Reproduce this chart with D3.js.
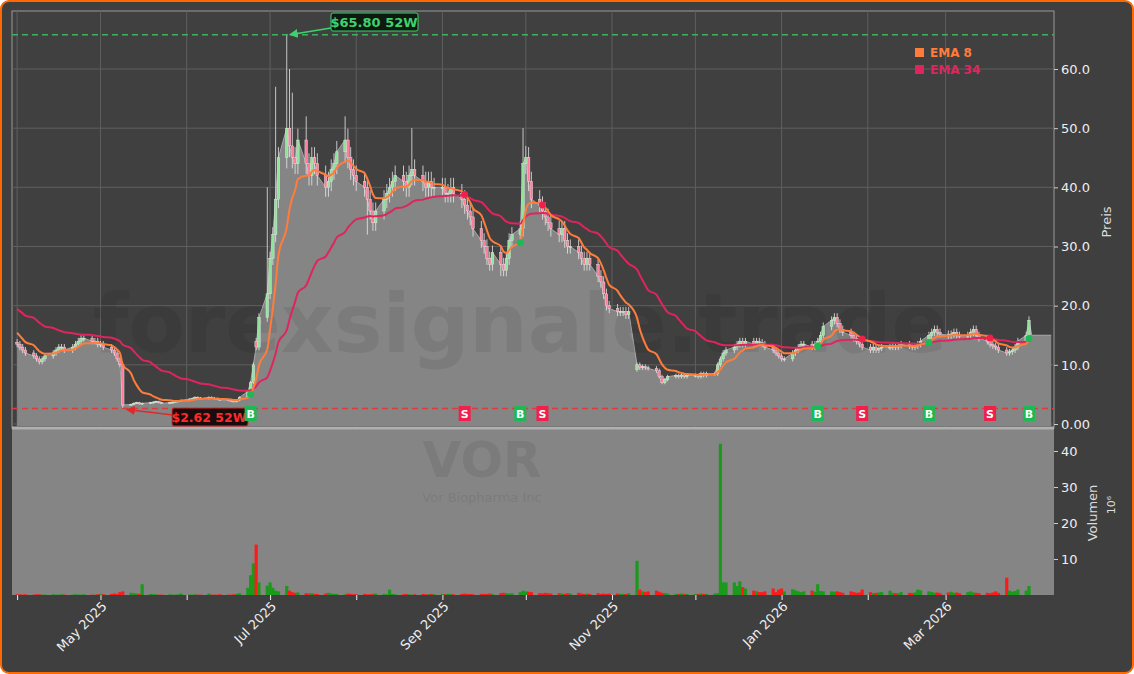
<!DOCTYPE html>
<html><head><meta charset="utf-8">
<script src="https://cdn.jsdelivr.net/npm/d3@7"></script>
<style>body{margin:0;background:#fff;font-family:"DejaVu Sans",sans-serif}</style>
</head><body><svg id="c" width="1134" height="674"></svg>
<script>
const months = ["2025-04","2025-05","2025-06","2025-07","2025-08","2025-09","2025-10","2025-11","2025-12","2026-01","2026-02","2026-03"];
const closeApr=[13.5,13,12.5,12,11.5,11,10.5,11,11.5,12,12.5,13,13,12.5,13,13.5,14,14.5,14.5,14,14,13.5];
const closeMay=[13.5,13,12.5,12,11,10,3.2,3.3,3.5,3.6,3.4,3.5,3.6,3.7,3.8,3.6,3.5,3.6,3.7,3.8,3.9,4.0];
const closeJun=[4.2,4.3,4.5,4.4,4.3,4.5,4.4,4.3,4.2,4.1,4.0,3.9,3.8,4.0,4.5,5.5,7,10,13,18,22];
const closeJul=[28,32,38,45,50,47,45,44,48,44,42,45,44,42,40,41,43,44,46,48,45,43,42];
const closeAug=[41,40,38,36,34,36,38,39,40,41,42,41,40,42,43,42,41,40,41,40,40];
const closeSep=[40,39,39,40,39,38,37,36,35,33,31,30,28,27,29,27,26,28,31,32,33,44];
const closeOct=[45,41,38,37,36,35,34,33,32,33,31,30,30,29,28,27,28,27,25,24,22,20,19.5];
const closeNov=[19,19,19,18.5,19,10,9.5,9.7,9.5,9.4,9,8,7,7.5,8,8.2,8,8.3,8,8.2];
const closeDec=[8.2,8,8.5,8.2,8.5,8.5,10,11,12,12.5,13,13.5,14,13.5,14,13.5,14,13.8,13.5,13,12.5,12,11.5];
const closeJan=[11,11,12,12.5,13,13.5,13.5,13,13.5,14,15,16.5,17.5,18,17,16,15.5,15,14.5,14,13.5,13];
const closeFeb=[12.5,13,12.5,12.8,13,13,13.2,13,13.3,13.5,13.2,13,13.2,13.5,14,15,15.5,16,15.5,15.2];
const closeMar=[15,15.2,15.5,15,14.8,15,15.5,16,15,14.5,14,13.5,13.2,13,12.5,12,12.2,12.5,13,14,15,17.5];
const volApr=[0.2,0.2,0.1,0.2,0.1,0.2,0.2,0.1,0.1,0.2,0.1,0.1,0.2,0.1,0.1,0.2,0.1,0.1,0.2,0.1,0.1,0.2];
const volMay=[0.3,0.2,0.3,0.4,0.3,0.8,1.0,0.6,0.5,0.4,0.3,3.0,0.3,0.2,0.2,0.1,0.1,0.2,0.1,0.1,0.2,0.4];
const volJun=[0.1,0.1,0.2,0.1,0.1,0.4,0.1,0.1,0.1,0.2,0.1,0.1,0.2,0.3,0.5,2.0,5.5,8.8,14.0,3.5,2.6];
const volJul=[3.5,2,1.2,1,2.5,1.2,0.8,0.6,0.7,0.5,0.4,0.5,0.3,0.3,0.4,0.6,0.4,0.3,0.3,0.2,0.4,0.3,0.2];
const volAug=[0.2,0.3,0.2,0.2,0.3,0.4,0.3,0.2,1.5,0.3,0.2,0.2,0.3,0.2,0.1,0.2,0.3,0.2,0.2,0.3,0.2];
const volSep=[0.3,0.2,0.3,0.3,0.2,0.3,0.4,0.3,0.3,0.2,0.3,0.3,0.3,0.4,0.3,0.5,0.6,0.5,0.4,0.5,0.8,1.2];
const volOct=[1.0,0.9,0.8,0.5,0.4,0.6,0.5,0.4,0.5,0.4,0.3,0.5,0.4,0.6,0.4,0.3,0.4,0.3,0.5,0.3,0.4,0.3,0.4];
const volNov=[0.4,0.3,0.3,0.3,0.5,9.5,1.5,1,0.8,1,1.2,0.9,0.6,0.5,0.4,0.3,0.3,0.4,0.3,0.3];
const volDec=[0.3,0.3,0.4,0.3,0.3,0.4,0.5,42,3.5,3.5,3.5,2.5,3.8,2.2,1.8,1.2,1,0.8,0.8,1,1.8,0.8,1.5];
const volJan=[1.8,1,1.6,1.3,1,0.8,1,1.2,0.9,3,1.1,1,1,0.9,1,0.8,0.6,1,0.8,0.6,0.7,1.5];
const volFeb=[0.8,0.5,0.6,0.7,0.8,1.2,0.6,0.5,0.5,0.8,0.6,0.5,0.7,1.5,1.3,1.0,0.8,0.6,0.7,0.5];
const volMar=[0.7,0.9,0.6,0.7,0.5,0.8,1,0.7,0.6,0.5,0.6,0.5,0.7,1.0,0.6,4.8,1.2,0.9,1.1,1.5,1.2,2.5];
const openOverrides=[["2025-06-26",14],["2025-11-10",9.2]];
const highOverrides=[["2025-06-30",40],["2025-07-03",57],["2025-07-07",65.8],["2025-07-08",60],["2025-07-09",56],["2025-07-14",52],["2025-07-28",52],["2025-08-21",50],["2025-09-30",50],["2025-10-01",47]];
const lowOverrides=[["2025-05-09",2.62],["2025-08-05",32],["2025-09-22",25]];
const tailCloses=[["2026-04-01",15],["2026-04-08",15]];
const buySignals=["2025-06-24","2025-09-29","2026-01-14","2026-02-23","2026-03-31"];
const sellSignals=["2025-09-09","2025-10-07","2026-01-30","2026-03-17"];
const yTicks=[0,10,20,30,40,50,60];
const vTicks=[10,20,30,40];
const xTickLabels=["May 2025","Jul 2025","Sep 2025","Nov 2025","Jan 2026","Mar 2026"];
const high52=65.80, low52=2.62;

const closes=[closeApr,closeMay,closeJun,closeJul,closeAug,closeSep,closeOct,closeNov,closeDec,closeJan,closeFeb,closeMar];
const vols=[volApr,volMay,volJun,volJul,volAug,volSep,volOct,volNov,volDec,volJan,volFeb,volMar];
const fmt=d3.timeFormat("%Y-%m-%d"), parse=d3.timeParse("%Y-%m-%d");
let data=[];
months.forEach((m,i)=>{
  const s=parse(m+"-01"), e=d3.timeMonth.offset(s,1);
  const days=d3.timeDays(s,e).filter(d=>d.getDay()>0&&d.getDay()<6);
  days.forEach((d,j)=>{ if(j<closes[i].length) data.push({date:d,close:closes[i][j],vol:vols[i][j]}); });
});
const hiMap=new Map(highOverrides), loMap=new Map(lowOverrides), opMap=new Map(openOverrides);
data.forEach((d,i)=>{
  const k=fmt(d.date);
  d.open=opMap.get(k)||(i?data[i-1].close:13.8);
  d.high=hiMap.get(k)||Math.max(d.open,d.close)*1.04;
  d.low=loMap.get(k)||Math.min(d.open,d.close)*0.96;
});
function ema(n,seed){let a=2/(n+1),v=seed;return data.map(d=>(v=v+a*(d.close-v)));}
const e8=ema(8,16), e34=ema(34,19.8);
data.forEach((d,i)=>{d.e8=e8[i];d.e34=e34[i];});

const svg=d3.select("#c");
svg.append("rect").attr("x",1).attr("y",1).attr("width",1132).attr("height",672).attr("rx",8).attr("fill","#3f3f3f").attr("stroke","#ff6a00").attr("stroke-width",2);
const L=12,R=1054,PT=11,PB=428,VB=595;
const x=d3.scaleTime().domain([new Date(2025,2,30,4),new Date(2026,3,9)]).range([L,R]);
const y=d3.scaleLinear().domain([0,60]).range([424,69]);
const yv=d3.scaleLinear().domain([0,40]).range([595,451]);

svg.append("rect").attr("x",L).attr("y",PT).attr("width",R-L).attr("height",PB-PT).attr("fill","#404040").attr("stroke","#9a9a9a");
const gridG=svg.append("g");
yTicks.forEach(t=>gridG.append("line").attr("x1",L).attr("x2",R).attr("y1",y(t)).attr("y2",y(t)).attr("stroke","#5e5e5e"));
const monthTicks=d3.timeMonth.range(new Date(2025,3,1),new Date(2026,2,2));
monthTicks.forEach(t=>gridG.append("line").attr("x1",x(t)).attr("x2",x(t)).attr("y1",PT).attr("y2",PB).attr("stroke","#5e5e5e"));
const ext=data.concat(tailCloses.map(([k,v])=>({date:parse(k),close:v})));
svg.append("path").datum(ext).attr("fill","#858585").attr("d",d3.area().x(d=>x(d.date)).y0(426).y1(d=>y(d.close)));
svg.append("path").datum(ext).attr("fill","none").attr("stroke","#a8a8a8").attr("stroke-width",1).attr("d",d3.line().x(d=>x(d.date)).y(d=>y(d.close)));
svg.append("text").attr("x",520).attr("y",352).attr("text-anchor","middle").attr("font-size",82).attr("font-weight","bold").attr("fill","#000").attr("opacity",0.07).text("forexsignale.trade");
svg.append("rect").attr("x",L).attr("y",PB).attr("width",R-L).attr("height",VB-PB).attr("fill","#858585");
svg.append("line").attr("x1",L).attr("x2",R).attr("y1",PB).attr("y2",PB).attr("stroke","#b0b0b0").attr("stroke-width",3);
svg.append("text").attr("x",482).attr("y",477).attr("text-anchor","middle").attr("font-size",50).attr("font-weight","bold").attr("fill","#000").attr("opacity",0.07).text("VOR");
svg.append("text").attr("x",482).attr("y",502).attr("text-anchor","middle").attr("font-size",13).attr("fill","#000").attr("opacity",0.07).text("Vor Biopharma Inc");
svg.append("g").selectAll("rect").data(data).join("rect")
  .attr("x",d=>x(d.date)-1.6).attr("width",3.2).attr("y",d=>yv(d.vol)).attr("height",d=>595-yv(d.vol))
  .attr("fill",d=>d.close>=d.open?"#1a9a1a":"#ff1a1a");
const cg=svg.append("g");
cg.selectAll("line").data(data).join("line").attr("x1",d=>x(d.date)).attr("x2",d=>x(d.date)).attr("y1",d=>y(d.high)).attr("y2",d=>y(d.low)).attr("stroke","#e8e8e8").attr("stroke-width",0.8);
cg.selectAll("rect").data(data).join("rect").attr("x",d=>x(d.date)-1.3).attr("width",2.6)
  .attr("y",d=>y(Math.max(d.open,d.close))).attr("height",d=>Math.max(1,Math.abs(y(d.open)-y(d.close))))
  .attr("fill",d=>d.close>=d.open?"#8fe39a":"#ff7d9a").attr("stroke","#eee").attr("stroke-width",0.4);
svg.append("path").datum(data).attr("fill","none").attr("stroke","#e0245e").attr("stroke-width",2).attr("d",d3.line().x(d=>x(d.date)).y(d=>y(d.e34)).curve(d3.curveMonotoneX));
svg.append("path").datum(data).attr("fill","none").attr("stroke","#ff7c3a").attr("stroke-width",2).attr("d",d3.line().x(d=>x(d.date)).y(d=>y(d.e8)).curve(d3.curveMonotoneX));
svg.append("line").attr("x1",L).attr("x2",R).attr("y1",y(high52)).attr("y2",y(high52)).attr("stroke","#3fb15f").attr("stroke-width",1.5).attr("stroke-dasharray","6,4");
svg.append("line").attr("x1",L).attr("x2",R).attr("y1",y(low52)).attr("y2",y(low52)).attr("stroke","#e03a3a").attr("stroke-width",1.5).attr("stroke-dasharray","6,4");
const defs=svg.append("defs");
[["ag","#3fd16f"],["ar","#e02a2a"]].forEach(([id,c])=>defs.append("marker").attr("id",id).attr("viewBox","0 0 10 10").attr("refX",9).attr("refY",5).attr("markerWidth",6).attr("markerHeight",6).attr("orient","auto").append("path").attr("d","M0,0L10,5L0,10z").attr("fill",c));
const hiD=data.find(d=>d.high===high52), loD=data.find(d=>d.low===low52);
svg.append("line").attr("x1",331).attr("y1",28).attr("x2",x(hiD.date)+3).attr("y2",y(high52)).attr("stroke","#3fd16f").attr("stroke-width",1.5).attr("marker-end","url(#ag)");
svg.append("rect").attr("x",331).attr("y",13).attr("width",87).attr("height",18).attr("rx",2).attr("fill","#0e1a10").attr("stroke","#3fd16f");
svg.append("text").attr("x",374).attr("y",27).attr("text-anchor","middle").attr("font-size",13).attr("font-weight","bold").attr("fill","#3fd16f").text("$65.80 52W");
svg.append("line").attr("x1",173).attr("y1",415).attr("x2",x(loD.date)+4).attr("y2",y(low52)+1).attr("stroke","#e02a2a").attr("stroke-width",1.5).attr("marker-end","url(#ar)");
svg.append("rect").attr("x",172).attr("y",408).attr("width",76).attr("height",18).attr("rx",2).attr("fill","#1a0c0c").attr("stroke","#e02a2a");
svg.append("text").attr("x",209).attr("y",422).attr("text-anchor","middle").attr("font-size",12.5).attr("font-weight","bold").attr("fill","#ff2a2a").text("$2.62 52W");
const byDate=new Map(data.map(d=>[fmt(d.date),d]));
function sig(list,lab,col){
  list.forEach(k=>{const d=byDate.get(k); if(!d)return;
    svg.append("circle").attr("cx",x(d.date)).attr("cy",y(d.e8)).attr("r",3.5).attr("fill",col);
    svg.append("rect").attr("x",x(d.date)-6).attr("y",406).attr("width",12).attr("height",15).attr("fill",col);
    svg.append("text").attr("x",x(d.date)).attr("y",418).attr("text-anchor","middle").attr("font-size",11).attr("font-weight","bold").attr("fill","#fff").text(lab);});
}
sig(buySignals,"B","#1db954"); sig(sellSignals,"S","#f0204a");
svg.append("rect").attr("x",915).attr("y",48).attr("width",9).attr("height",9).attr("fill","#ff7c3a");
svg.append("text").attr("x",930).attr("y",57).attr("font-size",12).attr("font-weight","bold").attr("fill","#ff7c3a").text("EMA 8");
svg.append("rect").attr("x",915).attr("y",65).attr("width",9).attr("height",9).attr("fill","#e0245e");
svg.append("text").attr("x",930).attr("y",74).attr("font-size",12).attr("font-weight","bold").attr("fill","#e0245e").text("EMA 34");
const ax=svg.append("g").attr("transform",`translate(${R},0)`).call(d3.axisRight(y).tickValues(yTicks).tickFormat(d=>d===0?"0.00":d.toFixed(1)).tickSize(4));
ax.select(".domain").remove();
ax.selectAll("text").attr("fill","#eee").attr("font-size",13).attr("font-family","DejaVu Sans");
ax.selectAll("line").attr("stroke","#ccc");
const av=svg.append("g").attr("transform",`translate(${R},0)`).call(d3.axisRight(yv).tickValues(vTicks).tickSize(4));
av.select(".domain").remove();
av.selectAll("text").attr("fill","#eee").attr("font-size",13).attr("font-family","DejaVu Sans");
av.selectAll("line").attr("stroke","#ccc");
svg.append("text").attr("transform","translate(1111,222) rotate(-90)").attr("text-anchor","middle").attr("font-size",13).attr("fill","#ddd").text("Preis");
svg.append("text").attr("transform","translate(1097,513) rotate(-90)").attr("text-anchor","middle").attr("font-size",13).attr("fill","#ddd").text("Volumen");
svg.append("text").attr("transform","translate(1115,505) rotate(-90)").attr("text-anchor","middle").attr("font-size",11).attr("fill","#ddd").text("10⁶");
const xa=svg.append("g").attr("transform",`translate(0,${VB})`).call(d3.axisBottom(x).tickValues(monthTicks).tickSize(5).tickFormat(d=>{const s=d3.timeFormat("%b %Y")(d);return xTickLabels.includes(s)?s:"";}));
xa.select(".domain").remove();
xa.selectAll("line").attr("stroke","#eee");
xa.selectAll("text").attr("fill","#eee").attr("font-size",13).attr("font-family","DejaVu Sans").attr("text-anchor","end").attr("transform","rotate(-45)").attr("dx","-0.3em").attr("dy","0.4em");
</script></body></html>
